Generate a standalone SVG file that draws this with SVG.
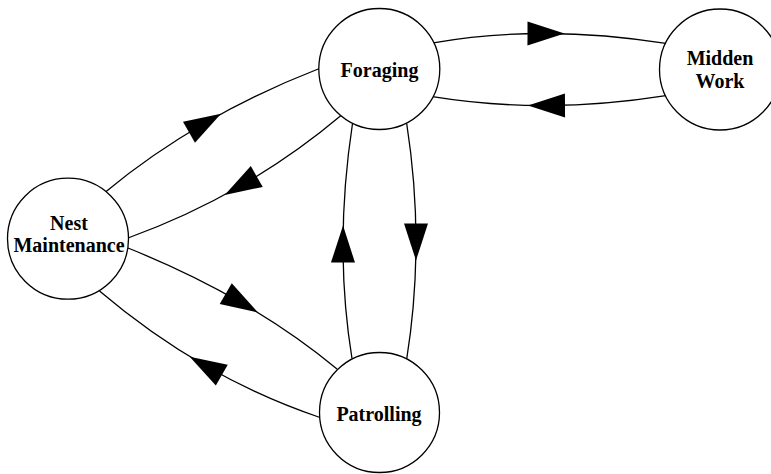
<svg xmlns="http://www.w3.org/2000/svg" width="771" height="474" viewBox="0 0 771 474">
<style>
.edge{fill:none;stroke:#000;stroke-width:1.3;marker-mid:url(#arrow)}
.node circle{fill:#fff;stroke:#000;stroke-width:1.3}
.node text{font-family:"Liberation Serif","Times New Roman",serif;font-weight:bold;font-size:20px;text-anchor:middle;fill:#000}
</style>
<defs>
<marker id="arrow" markerUnits="userSpaceOnUse" markerWidth="40" markerHeight="26" refX="18.5" refY="12" orient="auto" overflow="visible">
<path d="M0,0 L37,12 L0,24 z" fill="#000"/>
</marker>
</defs>
<rect width="771" height="474" fill="#fff"/>
<g id="connectors">
<path class="edge" d="M433.3,42.8 Q487.85,33.35 546,33.5 Q604.15,33.68 665.9,43.45"/>
<path class="edge" d="M665.9,95.55 Q604.85,105.23 546.5,105.5 Q488.15,105.8 432.5,96.7"/>
<path class="edge" d="M105.5,191.9 Q151.5,153.85 205,123 Q258.5,92.15 319.4,68.5"/>
<path class="edge" d="M341,115.5 Q294,155.1 240.75,185.75 Q187.5,216.4 128,238"/>
<path class="edge" d="M128,248 Q189.5,272.75 241.75,303 Q294,333.25 337,369"/>
<path class="edge" d="M320,417.5 Q260.9,397.6 205.75,366 Q150.6,334.4 99.5,291"/>
<path class="edge" d="M352,358.5 Q342.9,302.75 343,244 Q343.1,185.25 352.5,123.5"/>
<path class="edge" d="M406.7,123.5 Q416,183.1 416,242 Q416,300.9 406.7,359"/>
</g>
<g id="foraging" class="node">
<circle cx="379.3" cy="69" r="60.5"/>
<text x="379.5" y="77">Foraging</text>
</g>
<g id="midden-work" class="node">
<circle cx="720" cy="69.5" r="60.5"/>
<text x="720" y="65">Midden</text>
<text x="720" y="88">Work</text>
</g>
<g id="nest-maintenance" class="node">
<circle cx="68" cy="238.7" r="60.5"/>
<text x="69" y="229.5">Nest</text>
<text x="69" y="252">Maintenance</text>
</g>
<g id="patrolling" class="node">
<circle cx="379.5" cy="412.5" r="60"/>
<text x="379" y="421">Patrolling</text>
</g>
</svg>
